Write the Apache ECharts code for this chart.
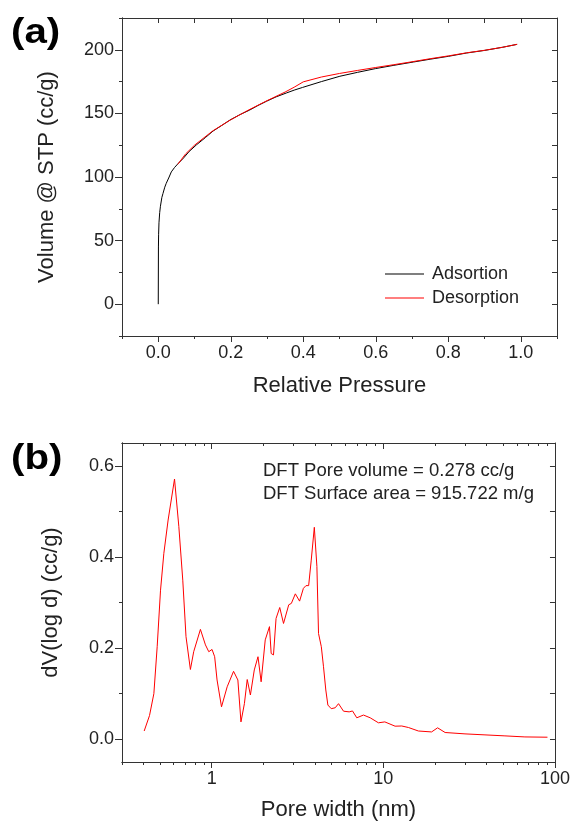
<!DOCTYPE html>
<html>
<head>
<meta charset="utf-8">
<script src="https://cdn.jsdelivr.net/npm/echarts@6/dist/echarts.min.js"></script>
<style>
html,body{margin:0;padding:0;background:#fff}
#main{width:573px;height:823px}
</style>
</head>
<body>
<div id="main"></div>
<script>
// (a) isotherm: relative pressure vs volume @ STP
var adsP = [0, 0.0005, 0.001, 0.002, 0.004, 0.006, 0.01, 0.013, 0.018, 0.022, 0.03, 0.036, 0.045, 0.054, 0.07, 0.085, 0.105, 0.13, 0.151, 0.175, 0.198, 0.225, 0.252, 0.275, 0.299, 0.325, 0.354, 0.375, 0.398, 0.45, 0.501, 0.55, 0.599, 0.65, 0.704, 0.75, 0.801, 0.851, 0.9, 0.95, 0.99];
var adsV = [0, 45, 55, 64, 72, 77, 84, 87, 92, 95, 100, 104, 107.5, 110.3, 115, 120, 125.2, 131, 136.1, 140.5, 144.8, 149, 152.6, 156.2, 159.6, 163, 166.1, 168.3, 170.4, 175, 179.2, 182.3, 185.2, 187.8, 190.4, 192.6, 194.9, 197.5, 199.5, 202, 204.3];
var desP = [0.99, 0.95, 0.9, 0.85, 0.8, 0.75, 0.7, 0.65, 0.6, 0.55, 0.5, 0.45, 0.4, 0.375, 0.35, 0.3, 0.25, 0.2, 0.15, 0.1, 0.075, 0.054];
var desV = [204.3, 202, 199.6, 197.6, 195.2, 193, 190.6, 188.3, 186.1, 183.8, 181.4, 178.6, 174.8, 170.6, 166.8, 160, 152.8, 145, 136.2, 125, 118, 110];

// (b) DFT pore size distribution
var psdW = [0.404, 0.434, 0.46, 0.481, 0.503, 0.526, 0.557, 0.607, 0.643, 0.678, 0.708, 0.751, 0.785, 0.859, 0.919, 0.961, 1.004, 1.04, 1.074, 1.14, 1.23, 1.34, 1.42, 1.48, 1.55, 1.61, 1.68, 1.77, 1.86, 1.94, 2.05, 2.17, 2.22, 2.29, 2.37, 2.49, 2.62, 2.81, 2.91, 3.07, 3.25, 3.42, 3.54, 3.67, 3.80, 3.96, 4.10, 4.19, 4.35, 4.48, 4.62, 4.75, 4.97, 5.24, 5.48, 5.86, 6.32, 6.61, 7.0, 7.66, 8.38, 9.36, 10.2, 11.7, 12.8, 14.0, 16.0, 19.1, 20.7, 22.9, 29.9, 39.1, 51.1, 66.8, 90.4];
var psdV = [0.018, 0.052, 0.10, 0.203, 0.327, 0.408, 0.481, 0.571, 0.467, 0.349, 0.225, 0.153, 0.192, 0.241, 0.207, 0.192, 0.197, 0.181, 0.130, 0.071, 0.115, 0.149, 0.130, 0.038, 0.078, 0.131, 0.097, 0.152, 0.181, 0.126, 0.218, 0.247, 0.188, 0.185, 0.265, 0.289, 0.254, 0.295, 0.298, 0.319, 0.303, 0.331, 0.337, 0.337, 0.393, 0.465, 0.379, 0.232, 0.203, 0.159, 0.108, 0.075, 0.067, 0.069, 0.078, 0.0615, 0.060, 0.062, 0.047, 0.053, 0.047, 0.036, 0.038, 0.0286, 0.029, 0.0257, 0.018, 0.016, 0.025, 0.0147, 0.0117, 0.0095, 0.0073, 0.005, 0.0044];

// tick positions
var pMajor = [0, 0.2, 0.4, 0.6, 0.8, 1.0];
var pMinor = [-0.1, 0.1, 0.3, 0.5, 0.7, 0.9, 1.1];
var pAll = [-0.1, 0, 0.1, 0.2, 0.3, 0.4, 0.5, 0.6, 0.7, 0.8, 0.9, 1.0, 1.1];
var vMajor = [0, 50, 100, 150, 200];
var vMinor = [-25, 25, 75, 125, 175, 225];
var vAll = [-25, 0, 25, 50, 75, 100, 125, 150, 175, 200, 225];
var wMajor = [1, 10, 100];
var wMinor = [0.3, 0.4, 0.5, 0.6, 0.7, 0.8, 0.9, 2, 3, 4, 5, 6, 7, 8, 9, 20, 30, 40, 50, 60, 70, 80, 90];
var dMajor = [0, 0.2, 0.4, 0.6];
var dMinor = [0.1, 0.3, 0.5];
var dAll = [0, 0.1, 0.2, 0.3, 0.4, 0.5, 0.6];

var FONT = '"Liberation Sans", Arial, sans-serif';
var INK = '#333';

function axis(o, ticks, len, inside, labels, fmt) {
	var a = {
		axisLine: {show: true, onZero: false, lineStyle: {color: INK, width: 1}},
		axisTick: {show: true, customValues: ticks, length: len, inside: !!inside, lineStyle: {color: INK, width: 1}},
		axisLabel: labels ? {show: true, customValues: labels, fontSize: 18, color: '#222', fontFamily: FONT, formatter: fmt} : {show: false},
		splitLine: {show: false},
		minorTick: {show: false}
	};
	for (var k in o) a[k] = o[k];
	return a;
}
function fix1(v) { return Number(v).toFixed(1); }
function nameStyle() { return {fontSize: 22, color: '#222', fontFamily: FONT}; }

var chart = echarts.init(document.getElementById('main'));
window.onresize = chart.resize;

chart.setOption({
	animation: false,
	backgroundColor: '#fff',
	textStyle: {fontFamily: FONT},
	grid: [
		{left: 122, top: 18, width: 435, height: 318},
		{left: 122, top: 443, width: 435, height: 319}
	],
	xAxis: [
		axis({gridIndex: 0, type: 'value', min: -0.1, max: 1.1, position: 'bottom',
			name: 'Relative Pressure', nameLocation: 'middle', nameGap: 39, nameTextStyle: nameStyle()},
			pMajor, 6, false, pMajor, fix1),
		axis({gridIndex: 0, type: 'value', min: -0.1, max: 1.1, position: 'bottom'}, pMinor, 3),
		axis({gridIndex: 0, type: 'value', min: -0.1, max: 1.1, position: 'top'}, pAll, 5, true),
		axis({gridIndex: 1, type: 'log', min: 0.3, max: 100, position: 'bottom',
			name: 'Pore width (nm)', nameLocation: 'middle', nameGap: 37, nameTextStyle: nameStyle()},
			wMajor, 6, false, wMajor, function (v) { return String(Math.round(v)); }),
		axis({gridIndex: 1, type: 'log', min: 0.3, max: 100, position: 'bottom'}, wMinor, 3),
		axis({gridIndex: 1, type: 'log', min: 0.3, max: 100, position: 'top'}, wMajor, 6, true),
		axis({gridIndex: 1, type: 'log', min: 0.3, max: 100, position: 'top'}, wMinor, 3, true)
	],
	yAxis: [
		axis({gridIndex: 0, type: 'value', min: -25, max: 225, position: 'left',
			name: 'Volume @ STP (cc/g)', nameLocation: 'middle', nameGap: 64, nameRotate: 90, nameTextStyle: nameStyle()},
			vMajor, 7, false, vMajor),
		axis({gridIndex: 0, type: 'value', min: -25, max: 225, position: 'left'}, vMinor, 3),
		axis({gridIndex: 0, type: 'value', min: -25, max: 225, position: 'right'}, vAll, 5, true),
		axis({gridIndex: 1, type: 'value', min: -0.05, max: 0.65, position: 'left',
			name: 'dV(log d) (cc/g)', nameLocation: 'middle', nameGap: 60, nameRotate: 90, nameTextStyle: nameStyle()},
			dMajor, 7, false, dMajor, fix1),
		axis({gridIndex: 1, type: 'value', min: -0.05, max: 0.65, position: 'left'}, dMinor, 3),
		axis({gridIndex: 1, type: 'value', min: -0.05, max: 0.65, position: 'right'}, dAll, 5, true)
	],
	legend: {
		data: ['Adsortion', 'Desorption'],
		orient: 'vertical',
		left: 385,
		top: 265,
		padding: 0,
		icon: 'rect',
		itemWidth: 39,
		itemHeight: 1.2,
		itemGap: 6,
		textStyle: {fontSize: 18, lineHeight: 16, color: '#222', fontFamily: FONT, padding: [0, 0, 0, 3]}
	},
	graphic: [
		{type: 'text', x: 11, y: 33, scaleX: 1.15, style: {text: '(a)', font: 'bold 35px ' + FONT, fill: '#000', verticalAlign: 'middle'}},
		{type: 'text', x: 11, y: 459, scaleX: 1.15, style: {text: '(b)', font: 'bold 35px ' + FONT, fill: '#000', verticalAlign: 'middle'}},
		{type: 'text', x: 263, y: 470.7, style: {text: 'DFT Pore volume = 0.278 cc/g', font: '18.5px ' + FONT, fill: '#222', verticalAlign: 'middle'}},
		{type: 'text', x: 263, y: 493.7, style: {text: 'DFT Surface area = 915.722 m/g', font: '18.5px ' + FONT, fill: '#222', verticalAlign: 'middle'}}
	],
	series: [
		{
			name: 'Adsortion', type: 'line', xAxisIndex: 0, yAxisIndex: 0,
			data: adsP.map(function (p, i) { return [p, adsV[i]]; }),
			symbol: 'none', color: '#000', lineStyle: {color: '#000', width: 1}, z: 3
		},
		{
			name: 'Desorption', type: 'line', xAxisIndex: 0, yAxisIndex: 0,
			data: desP.map(function (p, i) { return [p, desV[i]]; }),
			symbol: 'none', color: '#ff0000', lineStyle: {color: '#ff0000', width: 1}, z: 4
		},
		{
			name: 'PSD', type: 'line', xAxisIndex: 3, yAxisIndex: 3,
			data: psdW.map(function (w, i) { return [w, psdV[i]]; }),
			symbol: 'none', color: '#ff0000', lineStyle: {color: '#ff0000', width: 1}
		}
	]
});
</script>
</body>
</html>
